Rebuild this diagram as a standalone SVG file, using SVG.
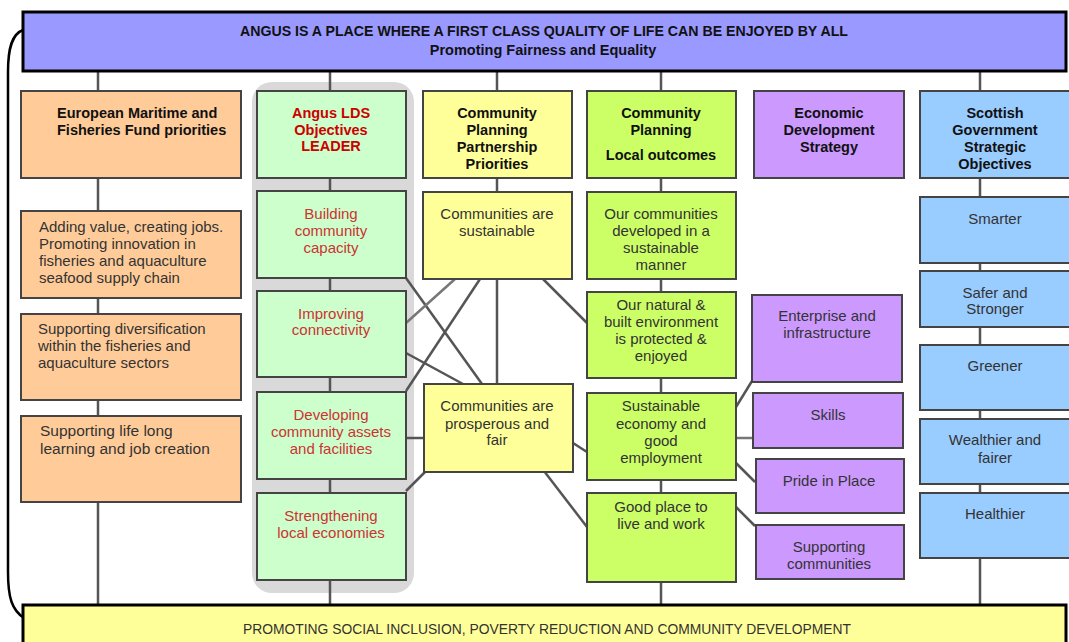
<svg xmlns="http://www.w3.org/2000/svg" width="1069" height="642" viewBox="0 0 1069 642">
<style>
.box{stroke:#444;stroke-width:2}
.or{fill:#ffcc99}.lg{fill:#ccffcc}.ye{fill:#ffff99}.gr{fill:#ccff66}.pu{fill:#cc99ff}.bl{fill:#99ccff}
.banner{stroke:#000;stroke-width:3}
.h{font-family:"Liberation Sans",Arial,sans-serif;font-weight:bold;font-size:14.5px;fill:#111}
.t{font-family:"Liberation Sans",Arial,sans-serif;font-size:15px;fill:#333}
.c{text-anchor:middle}
.rh{fill:#cc0000}
.r{fill:#cc3333}
.ln{stroke:#555;stroke-width:2.5;fill:none}
.lt{stroke:#777;stroke-width:2.5;fill:none}
</style>
<rect width="1069" height="642" fill="#fff"/>

<g id="bracket">
<path d="M23,30 C12,34 8,48 8,72 L8,572 C8,598 12,610 24,618" fill="none" stroke="#000" stroke-width="2.5"/>
</g>

<g id="lds-panel">
<rect x="252" y="82" width="162" height="511" rx="20" fill="#d9d9d9"/>
</g>

<g id="connectors">
<line class="ln" x1="98" y1="71" x2="98" y2="605"/>
<line class="ln" x1="330" y1="71" x2="330" y2="605"/>
<line class="ln" x1="497" y1="71" x2="497" y2="384"/>
<line class="ln" x1="661" y1="71" x2="661" y2="605"/>
<line class="ln" x1="980" y1="71" x2="980" y2="605"/>
<line class="ln" x1="406" y1="278" x2="482" y2="384"/>
<line class="lt" x1="406" y1="323" x2="455" y2="279"/>
<line class="ln" x1="406" y1="353" x2="463" y2="384"/>
<line class="ln" x1="406" y1="391" x2="480" y2="279"/>
<line class="ln" x1="406" y1="438" x2="424" y2="438"/>
<line class="ln" x1="406" y1="491" x2="426" y2="471"/>
<line class="ln" x1="543" y1="279" x2="587" y2="323"/>
<line class="ln" x1="573" y1="443" x2="587" y2="452"/>
<line class="ln" x1="544" y1="471" x2="587" y2="527"/>
<line class="ln" x1="736" y1="407" x2="752" y2="381"/>
<line class="lt" x1="736" y1="438" x2="753" y2="438"/>
<line class="ln" x1="736" y1="463" x2="755" y2="482"/>
<line class="ln" x1="736" y1="507" x2="755" y2="526"/>
</g>

<g id="top-banner">
<rect class="banner" x="23" y="12" width="1043" height="59" fill="#9999ff"/>
<text class="h c" x="544" y="36" textLength="608" lengthAdjust="spacingAndGlyphs">ANGUS IS  A PLACE WHERE A FIRST CLASS QUALITY OF LIFE CAN BE ENJOYED BY ALL</text>
<text class="h c" x="543" y="55">Promoting Fairness and Equality</text>
</g>

<g id="bottom-banner">
<rect class="banner" x="23" y="605" width="1043" height="50" fill="#ffff99"/>
<text class="t c" x="547" y="634" textLength="608" lengthAdjust="spacingAndGlyphs" style="font-size:14px">PROMOTING SOCIAL INCLUSION, POVERTY REDUCTION AND COMMUNITY DEVELOPMENT</text>
</g>

<g id="emff-header">
<rect class="box or" x="21" y="91" width="220" height="87"/>
<text class="h" x="57" y="118"><tspan x="57">European Maritime and</tspan><tspan x="57" y="134.5">Fisheries Fund priorities</tspan></text>
</g>
<g id="emff-1">
<rect class="box or" x="21" y="211" width="220" height="87"/>
<text class="t" x="39" y="232"><tspan x="39">Adding value, creating jobs.</tspan><tspan x="39" y="249">Promoting innovation in</tspan><tspan x="39" y="266">fisheries and aquaculture</tspan><tspan x="39" y="283">seafood supply chain</tspan></text>
</g>
<g id="emff-2">
<rect class="box or" x="21" y="314" width="220" height="86"/>
<text class="t" x="38" y="333.5"><tspan x="38">Supporting diversification</tspan><tspan x="38" y="350.5">within the fisheries and</tspan><tspan x="38" y="367.5">aquaculture sectors</tspan></text>
</g>
<g id="emff-3">
<rect class="box or" x="21" y="416" width="220" height="86"/>
<text class="t" x="40" y="436" style="font-size:15.5px"><tspan x="40">Supporting life long</tspan><tspan x="40" y="453.5">learning and job creation</tspan></text>
</g>

<g id="lds-header">
<rect class="box lg" x="257" y="91" width="149" height="87"/>
<text class="h c rh" x="331" y="118"><tspan x="331">Angus LDS</tspan><tspan x="331" y="134.5">Objectives</tspan><tspan x="331" y="151">LEADER</tspan></text>
</g>
<g id="lds-1">
<rect class="box lg" x="257" y="191" width="149" height="87"/>
<text class="t c r" x="331" y="218.5"><tspan x="331">Building</tspan><tspan x="331" y="235.5">community</tspan><tspan x="331" y="252.5">capacity</tspan></text>
</g>
<g id="lds-2">
<rect class="box lg" x="257" y="291" width="149" height="86"/>
<text class="t c r" x="331" y="318.5"><tspan x="331">Improving</tspan><tspan x="331" y="335">connectivity</tspan></text>
</g>
<g id="lds-3">
<rect class="box lg" x="257" y="392" width="149" height="87"/>
<text class="t c r" x="331" y="420"><tspan x="331">Developing</tspan><tspan x="331" y="437">community assets</tspan><tspan x="331" y="453.5">and facilities</tspan></text>
</g>
<g id="lds-4">
<rect class="box lg" x="257" y="493" width="149" height="87"/>
<text class="t c r" x="331" y="521"><tspan x="331">Strengthening</tspan><tspan x="331" y="538">local economies</tspan></text>
</g>

<g id="cpp-header">
<rect class="box ye" x="423" y="91" width="149" height="87"/>
<text class="h c" x="497" y="118"><tspan x="497">Community</tspan><tspan x="497" y="135">Planning</tspan><tspan x="497" y="151.5">Partnership</tspan><tspan x="497" y="168.5">Priorities</tspan></text>
</g>
<g id="cpp-1">
<rect class="box ye" x="423" y="192" width="149" height="87"/>
<text class="t c" x="497" y="218.5"><tspan x="497">Communities are</tspan><tspan x="497" y="235.5">sustainable</tspan></text>
</g>
<g id="cpp-2">
<rect class="box ye" x="424" y="384" width="149" height="88"/>
<text class="t c" x="497" y="411"><tspan x="497">Communities are</tspan><tspan x="497" y="428.5">prosperous and</tspan><tspan x="497" y="445">fair</tspan></text>
</g>

<g id="lo-header">
<rect class="box gr" x="587" y="91" width="149" height="87"/>
<text class="h c" x="661" y="118"><tspan x="661">Community</tspan><tspan x="661" y="135">Planning</tspan><tspan x="661" y="159.5">Local outcomes</tspan></text>
</g>
<g id="lo-1">
<rect class="box gr" x="587" y="192" width="149" height="87"/>
<text class="t c" x="661" y="218.5"><tspan x="661">Our communities</tspan><tspan x="661" y="235.5">developed in a</tspan><tspan x="661" y="252.5">sustainable</tspan><tspan x="661" y="270">manner</tspan></text>
</g>
<g id="lo-2">
<rect class="box gr" x="587" y="292" width="149" height="86"/>
<text class="t c" x="661" y="309.5"><tspan x="661">Our natural &amp;</tspan><tspan x="661" y="326.5">built environment</tspan><tspan x="661" y="344">is protected &amp;</tspan><tspan x="661" y="361">enjoyed</tspan></text>
</g>
<g id="lo-3">
<rect class="box gr" x="587" y="393" width="149" height="87"/>
<text class="t c" x="661" y="411"><tspan x="661">Sustainable</tspan><tspan x="661" y="428.5">economy and</tspan><tspan x="661" y="445.5">good</tspan><tspan x="661" y="462.5">employment</tspan></text>
</g>
<g id="lo-4">
<rect class="box gr" x="587" y="493" width="149" height="89"/>
<text class="t c" x="661" y="511.5"><tspan x="661">Good place to</tspan><tspan x="661" y="528.5">live and work</tspan></text>
</g>

<g id="eds-header">
<rect class="box pu" x="754" y="91" width="150" height="87"/>
<text class="h c" x="829" y="118"><tspan x="829">Economic</tspan><tspan x="829" y="135">Development</tspan><tspan x="829" y="151.5">Strategy</tspan></text>
</g>
<g id="eds-1">
<rect class="box pu" x="752" y="295" width="150" height="87"/>
<text class="t c" x="827" y="321"><tspan x="827">Enterprise and</tspan><tspan x="827" y="337.5">infrastructure</tspan></text>
</g>
<g id="eds-2">
<rect class="box pu" x="753" y="393" width="150" height="55"/>
<text class="t c" x="828" y="419.5">Skills</text>
</g>
<g id="eds-3">
<rect class="box pu" x="756" y="459" width="148" height="54"/>
<text class="t c" x="829" y="486">Pride in Place</text>
</g>
<g id="eds-4">
<rect class="box pu" x="756" y="525" width="148" height="54"/>
<text class="t c" x="829" y="551.5"><tspan x="829">Supporting</tspan><tspan x="829" y="568.5">communities</tspan></text>
</g>

<g id="sg-header">
<rect class="box bl" x="920" y="91" width="150" height="87"/>
<text class="h c" x="995" y="118"><tspan x="995">Scottish</tspan><tspan x="995" y="135">Government</tspan><tspan x="995" y="151.5">Strategic</tspan><tspan x="995" y="168.5">Objectives</tspan></text>
</g>
<g id="sg-1">
<rect class="box bl" x="920" y="197" width="150" height="66"/>
<text class="t c" x="995" y="223.5">Smarter</text>
</g>
<g id="sg-2">
<rect class="box bl" x="920" y="271" width="150" height="56"/>
<text class="t c" x="995" y="297.5"><tspan x="995">Safer and</tspan><tspan x="995" y="314">Stronger</tspan></text>
</g>
<g id="sg-3">
<rect class="box bl" x="920" y="345" width="150" height="65"/>
<text class="t c" x="995" y="371">Greener</text>
</g>
<g id="sg-4">
<rect class="box bl" x="920" y="419" width="150" height="65"/>
<text class="t c" x="995" y="445"><tspan x="995">Wealthier and</tspan><tspan x="995" y="462.5">fairer</tspan></text>
</g>
<g id="sg-5">
<rect class="box bl" x="920" y="493" width="150" height="65"/>
<text class="t c" x="995" y="519">Healthier</text>
</g>
</svg>
